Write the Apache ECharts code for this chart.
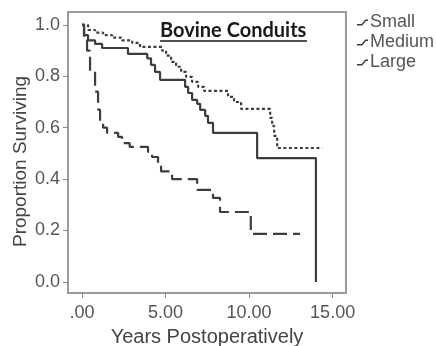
<!DOCTYPE html>
<html>
<head>
<meta charset="utf-8">
<script src="https://cdn.jsdelivr.net/npm/echarts@6/dist/echarts.min.js"></script>
<style>html,body{margin:0;padding:0;background:#fff}#c{width:436px;height:346px}</style>
</head>
<body>
<div id="c"></div>
<script>
// ---- data ----
const seriesNames = ['Small', 'Medium', 'Large'];
const xTicks = [0, 5, 10, 15];
const xTickLabels = ['.00', '5.00', '10.00', '15.00'];
const yTicks = [0, 0.2, 0.4, 0.6, 0.8, 1.0];
const yTickLabels = ['0.0', '0.2', '0.4', '0.6', '0.8', '1.0'];

const smallT = [0, 0.12, 0.3, 0.48, 0.78, 0.96, 1.08, 1.26, 1.5, 2.16, 2.4, 2.85, 3.95, 4.19, 4.55, 4.73, 5.39, 6.89, 7.84, 8.26, 10.1, 13.05];
const smallS = [1.0, 0.94, 0.90, 0.82, 0.74, 0.67, 0.62, 0.60, 0.58, 0.564, 0.54, 0.525, 0.506, 0.486, 0.455, 0.43, 0.40, 0.358, 0.327, 0.272, 0.187, 0.187];

const mediumT = [0, 0.12, 0.36, 0.78, 1.2, 2.75, 3.9, 4.13, 4.37, 4.67, 6.17, 6.35, 6.59, 6.89, 7.07, 7.37, 7.54, 7.84, 10.48, 14.0];
const mediumS = [1.0, 0.96, 0.94, 0.926, 0.91, 0.887, 0.87, 0.844, 0.817, 0.786, 0.759, 0.735, 0.708, 0.693, 0.669, 0.646, 0.619, 0.58, 0.482, 0.0];

const largeT = [0, 0.36, 0.78, 1.26, 1.8, 2.4, 3.0, 3.47, 4.79, 5.03, 5.33, 5.63, 5.93, 6.23, 6.59, 6.95, 7.31, 8.74, 9.1, 9.52, 11.26, 11.38, 11.5, 11.68, 14.37];
const largeS = [1.0, 0.98, 0.97, 0.96, 0.95, 0.94, 0.93, 0.914, 0.90, 0.88, 0.856, 0.837, 0.817, 0.798, 0.778, 0.759, 0.743, 0.72, 0.70, 0.673, 0.638, 0.607, 0.568, 0.521, 0.521];

// ---- chart ----
const zip = (t, s) => t.map((v, i) => [v, s[i]]);
const lineColor = '#3d3d3d';
const chart = echarts.init(document.getElementById('c'), null, {renderer: 'canvas'});
const font = 'Liberation Sans, Arial, sans-serif';
const legendIcon = 'path://M0,7 L5,7 L9,2 L12,2 L12,3.6 L9.7,3.6 L5.7,8.6 L0,8.6 Z';

chart.setOption({
  animation: false,
  backgroundColor: '#fff',
  grid: {left: 68, top: 12, right: 90, bottom: 53, outerBoundsMode: 'none', containLabel: false,
    show: true, borderColor: '#9a9a9a', borderWidth: 2, backgroundColor: 'transparent'},
  legend: {
    orient: 'vertical', left: 352, top: 8, itemWidth: 11, itemHeight: 7, itemGap: 1,
    icon: legendIcon,
    textStyle: {fontFamily: font, fontSize: 18, lineHeight: 19, color: '#555', padding: [0, 0, 0, -3]},
    data: seriesNames
  },
  graphic: [
    {type: 'text', left: 160, top: 21, style: {text: 'Bovine Conduits', font: 'bold 20px Lato, sans-serif', fill: '#1a1a1a'}},
    {type: 'line', shape: {x1: 160, y1: 41, x2: 307, y2: 41}, style: {stroke: '#1a1a1a', lineWidth: 1.5}}
  ],
  xAxis: {
    type: 'value', min: -0.84, max: 15.8,
    name: 'Years Postoperatively', nameLocation: 'middle', nameGap: 34, nameMoveOverlap: false,
    nameTextStyle: {fontFamily: font, fontSize: 20, color: '#444'},
    splitLine: {show: false},
    axisLine: {show: true, onZero: false, lineStyle: {color: '#9a9a9a', width: 2}},
    axisTick: {show: true, length: 5, customValues: xTicks, lineStyle: {color: '#888'}},
    axisLabel: {customValues: xTicks, margin: 11, fontFamily: font, fontSize: 18, color: '#555',
      formatter: v => xTickLabels[xTicks.indexOf(v)] ?? ''}
  },
  yAxis: {
    type: 'value', min: -0.043, max: 1.05,
    name: 'Proportion Surviving', nameLocation: 'middle', nameGap: 38, nameMoveOverlap: false,
    nameTextStyle: {fontFamily: font, fontSize: 19, color: '#444', padding: [0, 18, 0, 0]},
    splitLine: {show: false},
    axisLine: {show: true, onZero: false, lineStyle: {color: '#9a9a9a', width: 2}},
    axisTick: {show: true, length: 5, customValues: yTicks, lineStyle: {color: '#888'}},
    axisLabel: {customValues: yTicks, margin: 8, fontFamily: font, fontSize: 18, color: '#555',
      formatter: v => { const i = yTicks.findIndex(t => Math.abs(t - v) < 1e-6); return i >= 0 ? yTickLabels[i] : ''; }}
  },
  series: [
    {name: 'Small', type: 'line', step: 'end', symbol: 'none', data: zip(smallT, smallS),
      lineStyle: {color: lineColor, width: 2.2, type: [14, 6]}, itemStyle: {color: lineColor}},
    {name: 'Medium', type: 'line', step: 'end', symbol: 'none', data: zip(mediumT, mediumS),
      lineStyle: {color: lineColor, width: 2.2, type: 'solid'}, itemStyle: {color: lineColor}},
    {name: 'Large', type: 'line', step: 'end', symbol: 'none', data: zip(largeT, largeS),
      lineStyle: {color: lineColor, width: 2.2, type: [3, 2.5]}, itemStyle: {color: lineColor}}
  ]
});
</script>
</body>
</html>
